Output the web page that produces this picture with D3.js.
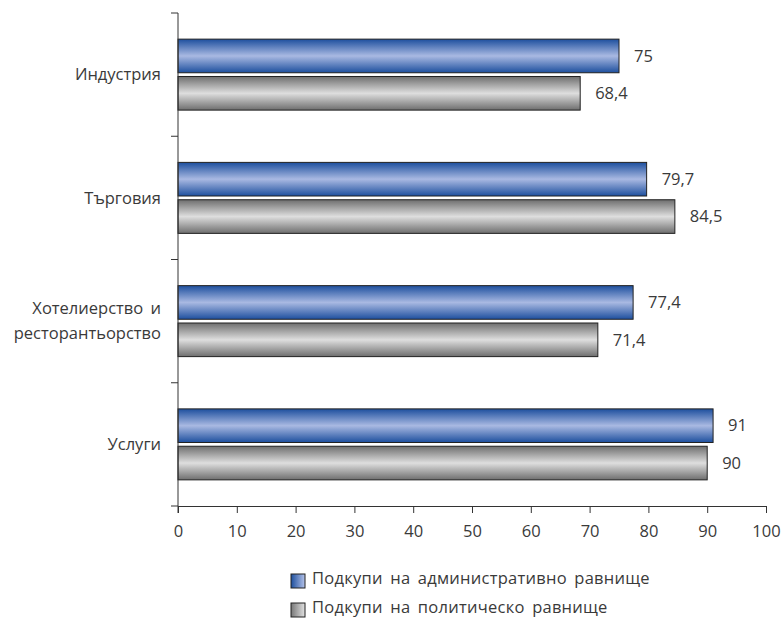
<!DOCTYPE html>
<html><head><meta charset="utf-8">
<script src="https://cdn.jsdelivr.net/npm/d3@7"></script>
<style>body{margin:0;background:#fff;} text{font-family:"Open Sans",sans-serif;fill:#3a3a3a;}</style>
</head><body>
<svg id="chart" width="781" height="620"></svg>
<script>
const categories = [["Индустрия"], ["Търговия"], ["Хотелиерство и", "ресторантьорство"], ["Услуги"]];
const seriesNames = ["Подкупи на административно равнище", "Подкупи на политическо равнище"];
const adminValues = [75, 79.7, 77.4, 91];
const politicalValues = [68.4, 84.5, 71.4, 90];
const xTicks = [0,10,20,30,40,50,60,70,80,90,100];

const FS = 16.5;
const svg = d3.select("#chart");
const defs = svg.append("defs");
function vgrad(id, edge, mid){
  const g = defs.append("linearGradient").attr("id", id).attr("x1",0).attr("y1",0).attr("x2",0).attr("y2",1);
  g.append("stop").attr("offset","0%").attr("stop-color",edge);
  g.append("stop").attr("offset","50%").attr("stop-color",mid);
  g.append("stop").attr("offset","100%").attr("stop-color",edge);
}
vgrad("gBlue", "#1d4f9e", "#a9b9e2");
vgrad("gGray", "#6e6e6e", "#dedede");
function hgrad(id, a, b){
  const g = defs.append("linearGradient").attr("id", id).attr("x1",0).attr("y1",0).attr("x2",1).attr("y2",0);
  g.append("stop").attr("offset","0%").attr("stop-color",a);
  g.append("stop").attr("offset","100%").attr("stop-color",b);
}
hgrad("lBlue", "#1d4f9e", "#b5c3ea");
hgrad("lGray", "#777", "#e2e2e2");

const yTop = 13, yBot = 506;
const x = d3.scaleLinear().domain([0,100]).range([178, 766]);
const y0 = d3.scaleBand().domain(d3.range(categories.length)).range([yTop, yBot]).paddingInner(0.424).paddingOuter(0.212);
const y1 = d3.scaleBand().domain([0,1]).range([0, y0.bandwidth()]).paddingInner(0.1);
const fills = ["url(#gBlue)", "url(#gGray)"];
const series = [adminValues, politicalValues];

const g = svg.append("g");
categories.forEach((cat, i) => {
  series.forEach((vals, s) => {
    const v = vals[i];
    const top = y0(i) + y1(s);
    g.append("rect").attr("x", x(0)).attr("y", top)
      .attr("width", x(v) - x(0)).attr("height", y1.bandwidth())
      .attr("fill", fills[s]).attr("stroke", "#222").attr("stroke-width", 1);
    g.append("text").attr("x", x(v) + 15).attr("y", top + y1.bandwidth()/2)
      .attr("dy", "0.35em").attr("font-size", FS)
      .text(String(v).replace(".", ","));
  });
  const cy = y0(i) + y0.bandwidth()/2;
  const t = g.append("text").attr("text-anchor","end").attr("font-size",FS).attr("x",161).attr("word-spacing","3px");
  const n = cat.length;
  cat.forEach((line, k) => {
    t.append("tspan").attr("x",161).attr("y", cy + (k - (n-1)/2)*25).attr("dy","0.35em").text(line);
  });
});

// y axis
const axisColor = "#333";
svg.append("line").attr("x1",x(0)).attr("x2",x(0)).attr("y1",yTop).attr("y2",yBot+7).attr("stroke",axisColor);
const bounds = d3.range(categories.length).map(i => y0(i) - y0.step()*y0.paddingInner()/2);
bounds[0] = yTop;
bounds.push(yBot);
bounds.forEach(b => svg.append("line").attr("x1",x(0)-7).attr("x2",x(0)).attr("y1",b).attr("y2",b).attr("stroke",axisColor));

// x axis
const xa = svg.append("g").attr("transform",`translate(0,${yBot})`)
  .call(d3.axisBottom(x).tickValues(xTicks).tickSize(7).tickPadding(12).tickSizeOuter(0));
xa.select(".domain").attr("stroke",axisColor);
xa.selectAll(".tick line").attr("stroke",axisColor);
xa.selectAll(".tick text").attr("font-size",FS).attr("font-family","Open Sans").attr("fill","#3a3a3a");

// legend
const lfill = ["url(#lBlue)", "url(#lGray)"];
seriesNames.forEach((name, s) => {
  const base = 584 + s*29;
  svg.append("rect").attr("x",291).attr("y",base-10).attr("width",14).attr("height",14)
    .attr("fill",lfill[s]).attr("stroke","#222").attr("stroke-width",1);
  svg.append("text").attr("x",312).attr("y",base).attr("font-size",FS)
    .attr("letter-spacing","0.25px").attr("word-spacing","3px").text(name);
});
</script>
</body></html>
